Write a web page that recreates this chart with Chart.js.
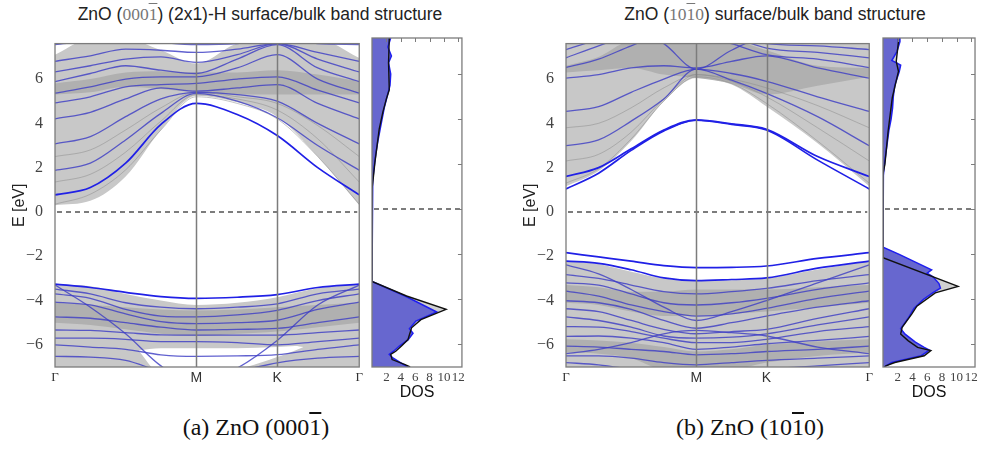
<!DOCTYPE html>
<html>
<head>
<meta charset="utf-8">
<script src="https://cdn.jsdelivr.net/npm/chart.js@4.4.1/dist/chart.umd.min.js"></script>
<style>
  body { margin: 0; width: 984px; height: 450px; background: #fff; position: relative; overflow: hidden;
         font-family: "Liberation Sans", Arial, sans-serif; }
  canvas { position: absolute; }
  .title { position: absolute; top: 4px; font-size: 17.5px; color: #222; white-space: nowrap; transform: translateX(-50%); }
  .title .hkl { font-family: "Liberation Serif", serif; color: #777; }
  .cap { position: absolute; top: 414px; font-family: "Liberation Serif", serif; font-size: 24px; color: #111;
         white-space: nowrap; transform: translateX(-50%); }
  .bar { text-decoration: overline; }
</style>
</head>
<body>
<div class="title" style="left:260px">ZnO (<span class="hkl">000<span class="bar">1</span></span>) (2x1)-H surface/bulk band structure</div>
<div class="title" style="left:775px">ZnO (<span class="hkl">10<span class="bar">1</span>0</span>) surface/bulk band structure</div>
<canvas id="bandA" width="366" height="372" style="left:0;top:30px"></canvas>
<canvas id="dosA" width="100" height="372" style="left:368px;top:30px"></canvas>
<canvas id="bandB" width="376" height="372" style="left:500px;top:30px"></canvas>
<canvas id="dosB" width="102" height="372" style="left:879px;top:30px"></canvas>
<div class="cap" style="left:256px">(a) ZnO (000<span class="bar">1</span>)</div>
<div class="cap" style="left:750px">(b) ZnO (10<span class="bar">1</span>0)</div>
<script>
  const SERIF = '"Liberation Serif", serif';
  const SANS = '"Liberation Sans", Arial, sans-serif';

  // k-path positions (path length, Gamma-M = 1)
  const kA = [0, 0.25, 0.5, 0.75, 1, 1.29, 1.573, 1.86, 2.154];
  const kTicksA = [0, 1, 1.573, 2.154];
  const kB = [0, 0.25, 0.5, 0.75, 1, 1.27, 1.538, 1.93, 2.326];
  const kTicksB = [0, 1, 1.538, 2.326];
  const kLabels = ['Γ', 'M', 'K', 'Γ'];
  const eTicks = [-6, -4, -2, 0, 2, 4, 6];
  const dosTicks = [2, 4, 6, 8, 10, 12];
  const fermiLevel = 0;

  // ---- panel (a): ZnO (000-1) (2x1)-H ----
  const surfCondA = [[0.77, 1.1, 2.2, 3.95, 4.9, 4.4, 3.45, 2.0, 0.77]];
  const condA = [
    [1.88, 2.2, 3.25, 4.45, 5.35, 5.0, 4.25, 3.0, 1.88],
    [3.07, 3.4, 4.3, 5.1, 5.4, 5.3, 5.0, 4.0, 3.07],
    [4.2, 4.5, 5.1, 5.6, 5.45, 5.6, 5.75, 4.9, 4.2],
    [4.92, 5.2, 5.65, 5.75, 5.8, 6.0, 6.1, 5.5, 4.92],
    [5.36, 5.65, 6.0, 6.1, 6.1, 6.5, 7.1, 6.0, 5.36],
    [5.88, 6.25, 6.6, 6.4, 6.25, 6.9, 7.55, 6.5, 5.88],
    [6.32, 6.6, 6.9, 7.0, 6.75, 7.1, 7.6, 6.9, 6.32],
    [6.8, 7.05, 7.35, 7.3, 7.2, 7.35, 7.6, 7.2, 6.8],
    [7.56, 7.7, 7.8, 7.65, 7.55, 7.6, 7.8, 7.6, 7.56]
  ];
  const surfValA = [[-3.26, -3.41, -3.63, -3.82, -3.9, -3.85, -3.73, -3.41, -3.26]];
  const valA = [
    [-3.48, -3.7, -4.1, -4.3, -4.37, -4.3, -4.15, -3.7, -3.48],
    [-3.7, -3.9, -4.4, -4.7, -4.74, -4.65, -4.44, -4.0, -3.7],
    [-4.07, -4.2, -4.6, -4.95, -5.04, -5.0, -4.89, -4.4, -4.07],
    [-4.74, -4.8, -5.0, -5.2, -5.33, -5.3, -5.26, -5.0, -4.74],
    [-5.33, -5.35, -5.45, -5.55, -5.56, -5.56, -5.56, -5.45, -5.33],
    [-5.7, -5.7, -5.75, -5.85, -5.85, -5.9, -6.0, -5.85, -5.7],
    [-6.0, -6.1, -6.2, -6.45, -6.52, -6.5, -6.44, -6.2, -6.0],
    [-6.52, -6.55, -6.7, -7.2, -7.5, -7.2, -6.81, -6.6, -6.52],
    [-3.3, -4.3, -5.5, -6.95, -7.8, -7.05, -5.8, -4.2, -3.3]
  ];
  const bulkLinesA = [
    [0.35, 0.8, 1.9, 3.7, 5.2, 4.9, 4.2, 2.5, 0.35],
    [1.35, 1.7, 2.7, 4.1, 5.3, 5.1, 4.6, 3.3, 1.35],
    [2.5, 2.8, 3.7, 4.7, 5.4, 5.2, 4.9, 3.9, 2.5]
  ];
  // projected bulk bands (shaded)
  const bulkCondLoA = [0.3, 0.5, 1.6, 3.7, 5.25, 4.95, 4.3, 2.5, 0.3];
  const bulkCondHiA = [7.1, 7.8, 7.8, 7.3, 6.7, 7.6, 7.8, 7.8, 6.95];
  const darkCondLoA = [5.3, 5.4, 5.65, 5.55, 5.4, 5.3, 5.3, 5.3, 5.3];
  const darkCondHiA = [5.8, 6.0, 6.3, 6.35, 6.3, 6.3, 6.4, 6.2, 5.9];
  const bulkValTopA = [-3.26, -3.35, -3.7, -4.0, -4.2, -4.1, -3.85, -3.45, -3.26];
  const darkValHiA = [-4.1, -4.2, -4.3, -4.4, -4.45, -4.4, -4.3, -4.2, -4.1];
  const darkValLoA = [-5.0, -5.1, -5.3, -5.5, -5.6, -5.5, -5.4, -5.2, -5.0];
  const kHoleA = [0.59, 0.75, 1.0, 1.29, 1.573, 1.7, 1.76];
  const holeTopA = [-6.25, -6.15, -6.15, -6.15, -6.1, -6.05, -6.1];
  const holeBotA = [-6.25, -7.3, -7.3, -7.1, -6.55, -6.25, -6.1];

  // DOS (a)
  const bulkDosEA = [7.6, 6.5, 5.3, 4.9, 4.3, 3.56, 2.8, 2.07, 1.3, 0.9, -3.2, -3.85, -4.44, -4.9, -5.26, -5.78, -6.07, -6.3, -6.44, -6.67, -6.89, -7.0];
  const bulkDosA = [2.4, 2.3, 2.4, 2.0, 1.5, 1.0, 0.7, 0.4, 0.15, 0, 0, 4.8, 10.3, 6.8, 5.5, 5.0, 4.1, 3.3, 2.6, 2.8, 4.6, 5.3];
  const surfDosEA = [7.6, 7.2, 6.8, 6.5, 6.0, 5.5, 5.0, 4.5, 4.0, 3.5, 3.0, 2.5, 2.0, 1.3, 0.9, -3.2, -3.85, -4.56, -4.96, -5.3, -5.5, -5.8, -6.07, -6.3, -6.44, -6.6, -6.89, -7.0];
  const surfDosA = [2.6, 2.2, 2.7, 2.3, 2.6, 2.5, 2.1, 1.7, 1.4, 1.1, 0.8, 0.55, 0.35, 0.1, 0, 0, 4.6, 9.0, 6.1, 5.2, 5.7, 5.0, 3.8, 3.0, 2.4, 2.9, 4.4, 5.0];

  // ---- panel (b): ZnO (10-10) ----
  const surfCondB = [
    [1.04, 1.75, 2.78, 3.66, 4.14, 3.95, 3.7, 2.34, 1.04],
    [1.6, 2.0, 2.85, 3.7, 4.16, 3.98, 3.73, 2.5, 1.6]
  ];
  const condB = [
    [2.99, 3.25, 4.1, 5.1, 6.45, 5.95, 5.35, 4.3, 2.99],
    [4.54, 4.75, 5.4, 6.0, 6.45, 6.25, 5.9, 5.2, 4.54],
    [6.04, 6.2, 6.5, 6.6, 6.5, 6.8, 7.05, 6.5, 6.04],
    [6.52, 6.9, 7.5, 8.0, 8.0, 7.6, 7.1, 6.9, 6.52],
    [6.96, 7.5, 8.0, 8.3, 8.2, 7.9, 7.4, 7.2, 6.96],
    [7.33, 7.8, 8.3, 8.6, 8.5, 8.0, 7.6, 7.5, 7.33],
    [9.5, 9.0, 8.3, 7.6, 6.45, 7.3, 7.9, 7.7, 7.8]
  ];
  const surfValB = [
    [-1.84, -2.03, -2.22, -2.42, -2.51, -2.5, -2.44, -2.1, -1.84],
    [-2.22, -2.32, -2.61, -2.98, -3.1, -3.05, -2.98, -2.54, -2.22]
  ];
  const valB = [
    [-2.83, -3.0, -3.3, -3.6, -3.7, -3.6, -3.45, -3.1, -2.83],
    [-3.2, -3.3, -3.7, -4.1, -4.2, -4.1, -3.9, -3.5, -3.2],
    [-3.57, -3.8, -4.2, -4.5, -4.7, -4.6, -4.35, -3.9, -3.57],
    [-4.01, -4.1, -4.4, -4.9, -5.25, -5.0, -4.7, -4.3, -4.01],
    [-4.37, -4.5, -4.9, -5.3, -5.5, -5.4, -5.3, -4.8, -4.37],
    [-4.74, -4.9, -5.2, -5.6, -5.7, -5.65, -5.5, -5.1, -4.74],
    [-5.18, -5.2, -5.4, -5.7, -5.9, -5.9, -5.75, -5.4, -5.18],
    [-5.62, -5.6, -5.7, -5.9, -6.2, -6.1, -5.95, -5.8, -5.62],
    [-6.06, -6.1, -6.2, -6.3, -6.45, -6.4, -6.3, -6.2, -6.06],
    [-6.5, -6.5, -6.6, -6.8, -6.9, -6.8, -6.7, -6.6, -6.5],
    [-6.8, -6.9, -7.1, -7.3, -7.4, -7.3, -7.1, -6.95, -6.8],
    [-2.39, -2.8, -3.5, -4.3, -4.9, -4.5, -4.0, -3.2, -2.39],
    [-6.4, -6.2, -5.9, -5.5, -5.35, -5.45, -5.6, -6.1, -6.4]
  ];
  const bulkLinesB = [
    [1.3, 1.95, 3.3, 5.0, 6.1, 5.8, 4.9, 3.2, 1.3],
    [2.3, 2.6, 3.6, 5.1, 6.2, 5.9, 5.2, 3.8, 2.3],
    [3.8, 4.0, 4.7, 5.6, 6.2, 6.0, 5.6, 4.8, 3.8]
  ];
  const bulkCondLoB = [1.16, 1.85, 3.2, 5.0, 6.05, 5.75, 4.76, 3.1, 1.16];
  const darkCondLoB = [6.3, 6.4, 6.5, 6.2, 6.05, 5.8, 5.3, 5.7, 6.1];
  const darkCondHiB = [6.6, 7.0, 7.7, 7.7, 7.7, 7.7, 7.3, 6.6, 6.5];
  const bulkValTopB = [-2.2, -2.35, -2.7, -3.0, -3.12, -3.08, -3.0, -2.6, -2.2];
  const darkValHiB = [-3.3, -3.4, -3.6, -3.6, -3.5, -3.5, -3.5, -3.4, -3.3];
  const darkValLoB = [-4.1, -4.2, -4.5, -4.7, -4.7, -4.6, -4.5, -4.3, -4.1];
  const darkVal2HiB = [-5.75, -5.8, -5.9, -6.1, -6.3, -6.2, -6.0, -5.85, -5.75];
  const darkVal2LoB = [-6.35, -6.4, -6.6, -7.1, -7.1, -7.1, -6.8, -6.5, -6.35];

  // DOS (b)
  const bulkDosEB = [7.6, 7.44, 6.56, 6.12, 4.95, 3.48, 2.0, 1.57, -2.15, -3.42, -3.71, -4.3, -4.65, -5.24, -5.54, -5.83, -6.13, -6.27, -6.5, -6.8, -6.95, -7.0];
  const bulkDosB = [2.1, 2.1, 1.8, 2.1, 1.26, 0.7, 0.26, 0, 0, 10.2, 7.1, 4.6, 3.9, 2.6, 2.4, 3.4, 4.7, 6.5, 5.6, 1.6, 0.4, 0.2];
  const surfDosEB = [7.6, 7.44, 7.0, 6.6, 6.4, 6.1, 5.5, 5.0, 4.5, 4.0, 3.5, 3.0, 2.5, 2.0, 1.5, 1.1, -1.68, -2.0, -2.69, -2.84, -3.0, -3.3, -3.5, -3.7, -4.0, -4.4, -4.8, -5.3, -5.54, -5.9, -6.13, -6.25, -6.5, -6.8, -6.95, -7.0];
  const surfDosB = [2.3, 2.3, 1.9, 1.2, 2.4, 2.2, 1.6, 1.4, 1.3, 1.1, 0.8, 0.6, 0.4, 0.2, 0.05, 0, 0, 2.2, 6.6, 6.0, 6.8, 7.6, 7.8, 6.8, 5.5, 4.2, 3.5, 2.4, 3.0, 4.4, 5.6, 6.3, 5.2, 1.2, 0.4, 0.2];

  const GRAY = '#c8c8c8';
  const DARK = '#b0b0b0';
  const BLUE = 'rgba(62,62,196,0.82)';
  const SURF = '#2020e6';
  const FRAME = '#7c7c7c';

  function pts(xs, ys) {
    return xs.map((x, i) => ({ x, y: ys[i] }));
  }

  function edge(k, e, order, fill, color) {
    return { data: pts(k, e), borderWidth: 0, borderColor: 'rgba(0,0,0,0)', pointRadius: 0,
             fill: fill || false, backgroundColor: color || 'rgba(0,0,0,0)', order,
             cubicInterpolationMode: 'monotone' };
  }

  function line(k, e, color, width, order) {
    return { data: pts(k, e), borderColor: color, borderWidth: width, pointRadius: 0, fill: false,
             order, cubicInterpolationMode: 'monotone' };
  }

  // frame, vertical symmetry-point lines, dashed E = 0 line and small inward DOS ticks
  const frame = {
    id: 'frame',
    afterDraw(chart) {
      const { ctx, chartArea: a, scales } = chart;
      const y0 = Math.round(scales.y.getPixelForValue(fermiLevel));
      ctx.save();
      ctx.globalCompositeOperation = 'source-over';
      ctx.globalAlpha = 1;
      ctx.fillStyle = FRAME;
      for (let x = a.left + 2; x < a.right - 2; x += 9) {
        ctx.fillRect(x, y0 - 1, Math.min(5, a.right - 2 - x), 2);
      }
      ctx.strokeStyle = FRAME;
      if (chart.options.indexAxis === 'y') {
        ctx.lineWidth = 1;
        ctx.beginPath();
        dosTicks.forEach(v => {
          const x = Math.round(scales.x.getPixelForValue(v)) + 0.5;
          ctx.moveTo(x, a.top);
          ctx.lineTo(x, a.top + 4);
        });
        eTicks.forEach(v => {
          const y = Math.round(scales.y.getPixelForValue(v)) + 0.5;
          ctx.moveTo(a.right, y);
          ctx.lineTo(a.right - 4, y);
        });
        ctx.stroke();
      } else {
        ctx.lineWidth = 1.5;
        ctx.beginPath();
        chart.options.kMarks.forEach(v => {
          const x = Math.round(scales.x.getPixelForValue(v)) + 0.5;
          ctx.moveTo(x, a.top);
          ctx.lineTo(x, a.bottom);
        });
        ctx.stroke();
      }
      ctx.lineWidth = 1.3;
      ctx.strokeRect(a.left, a.top, a.right - a.left, a.bottom - a.top);
      ctx.restore();
    }
  };

  function bandChart(id, k, kTicks, datasets, yWidth, padTop) {
    new Chart(document.getElementById(id), {
      type: 'line',
      data: { datasets },
      plugins: [frame],
      options: {
        kMarks: kTicks.slice(1, -1),
        responsive: false, animation: false, events: [],
        layout: { padding: { top: padTop, right: 3, left: 0, bottom: 0 } },
        plugins: { legend: { display: false }, tooltip: { enabled: false } },
        scales: {
          x: {
            type: 'linear', min: 0, max: k[k.length - 1],
            afterBuildTicks: s => { s.ticks = kTicks.map(v => ({ value: v })); },
            afterFit: s => { s.height = 35; },
            grid: { display: false, drawTicks: false },
            border: { display: false },
            ticks: {
              padding: 3, color: '#333', autoSkip: false, maxRotation: 0,
              callback: (v, i) => kLabels[i],
              font: c => (c.index === 1 || c.index === 2) ? { family: SANS, size: 14 } : { family: SERIF, size: 13 }
            }
          },
          y: {
            type: 'linear', min: -7, max: 7.6,
            afterBuildTicks: s => { s.ticks = eTicks.map(v => ({ value: v })); },
            afterFit: s => { s.width = yWidth; },
            grid: { display: false },
            border: { display: false },
            ticks: { padding: 4, color: '#444', font: { family: SERIF, size: 16 },
                     callback: v => v < 0 ? '\u2212' + (-v) : String(v) },
            title: { display: true, text: 'E [eV]', color: '#222', font: { family: SANS, size: 16 },
                     padding: { top: yWidth - 45, bottom: 0 } }
          }
        }
      }
    });
  }

  function bandSets(k, fills, holes, bulkLines, cond, surfCond, val, surfVal) {
    const sets = [];
    fills.forEach(f => {
      if (f.lo) {
        sets.push(edge(k, f.hi, f.order, '+1', f.color));
        sets.push(edge(k, f.lo, f.order));
      } else {
        sets.push(edge(k, f.hi, f.order, f.to, f.color));
      }
    });
    holes.forEach(h => {
      sets.push(edge(h.k, h.hi, 18, '+1', '#ffffff'));
      sets.push(edge(h.k, h.lo, 18));
    });
    bulkLines.forEach(e => sets.push(line(k, e, 'rgba(140,140,140,0.5)', 1, 15)));
    cond.concat(val).forEach(e => sets.push(line(k, e, BLUE, 1.3, 5)));
    surfCond.concat(surfVal).forEach(e => sets.push(line(k, e, SURF, 1.7, 4)));
    return sets;
  }

  bandChart('bandA', kA, kTicksA, bandSets(kA,
    [
      { hi: bulkCondHiA, lo: bulkCondLoA, color: GRAY, order: 20 },
      { hi: darkCondHiA, lo: darkCondLoA, color: DARK, order: 19 },
      { hi: bulkValTopA, to: 'start', color: GRAY, order: 20 },
      { hi: darkValHiA, lo: darkValLoA, color: DARK, order: 19 }
    ],
    [{ k: kHoleA, hi: holeTopA, lo: holeBotA }],
    bulkLinesA, condA, surfCondA, valA, surfValA), 55, 9);

  bandChart('bandB', kB, kTicksB, bandSets(kB,
    [
      { hi: bulkCondLoB, to: 'end', color: GRAY, order: 20 },
      { hi: darkCondHiB, lo: darkCondLoB, color: DARK, order: 19 },
      { hi: bulkValTopB, to: 'start', color: GRAY, order: 20 },
      { hi: darkValHiB, lo: darkValLoB, color: DARK, order: 19 },
      { hi: darkVal2HiB, lo: darkVal2LoB, color: DARK, order: 19 }
    ],
    [],
    bulkLinesB, condB, surfCondB, valB, surfValB), 66, 8);

  function dosChart(id, bulkE, bulk, surfE, surf, xMax, padTop, padRight) {
    new Chart(document.getElementById(id), {
      type: 'line',
      data: {
        datasets: [
          { data: pts(bulk, bulkE), fill: 'origin', backgroundColor: '#d0d0d0', borderWidth: 0, pointRadius: 0, order: 4 },
          { data: pts(surf, surfE), fill: 'origin', backgroundColor: '#6767cf', borderColor: '#1e1ef0', borderWidth: 1.5, pointRadius: 0, order: 3 },
          { data: pts(bulk, bulkE), fill: false, borderColor: '#111', borderWidth: 1.4, pointRadius: 0, order: 2 }
        ]
      },
      plugins: [frame],
      options: {
        indexAxis: 'y',
        responsive: false, animation: false, events: [],
        layout: { padding: { top: padTop, right: padRight, left: 4, bottom: 0 } },
        plugins: { legend: { display: false }, tooltip: { enabled: false } },
        scales: {
          x: {
            type: 'linear', min: 0, max: xMax,
            afterBuildTicks: s => { s.ticks = dosTicks.map(v => ({ value: v })); },
            afterFit: s => { s.height = 35; },
            grid: { display: false, drawTicks: false },
            border: { display: false },
            ticks: { padding: 3, color: '#444', autoSkip: false, maxRotation: 0, font: { family: SERIF, size: 13 } },
            title: { display: true, text: 'DOS', color: '#111', font: { family: SANS, size: 16 }, padding: 0 }
          },
          y: { type: 'linear', min: -7, max: 7.6, display: false }
        }
      }
    });
  }

  dosChart('dosA', bulkDosEA, bulkDosA, surfDosEA, surfDosA, 12.5, 8, 4);
  dosChart('dosB', bulkDosEB, bulkDosB, surfDosEB, surfDosB, 12.5, 8, 4);
</script>
</body>
</html>
